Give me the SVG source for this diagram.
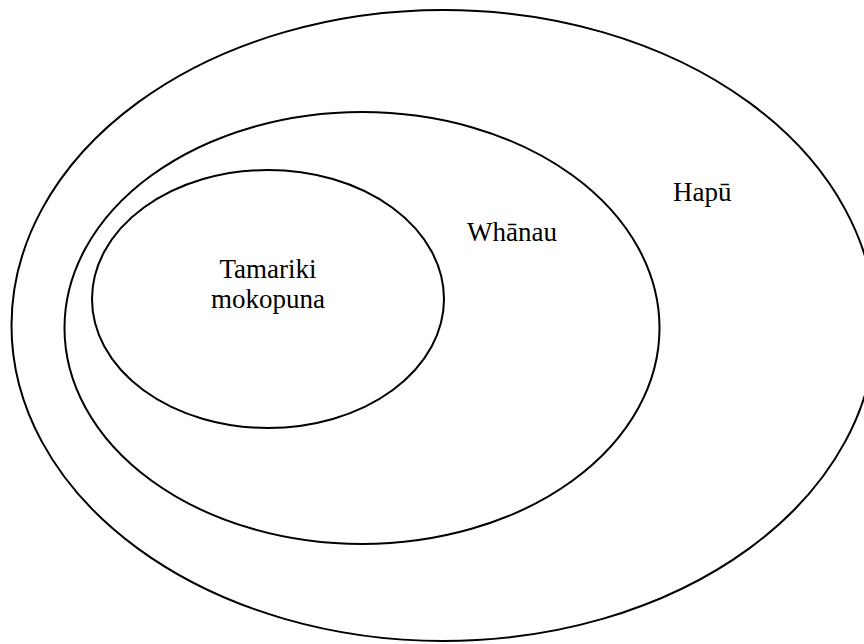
<svg xmlns="http://www.w3.org/2000/svg" width="864" height="644" viewBox="0 0 864 644">
<style>
.e{fill:none;stroke:#000;stroke-width:2}
.t{font-family:"Liberation Serif","Times New Roman",serif;font-size:27px;fill:#000}
</style>
<rect width="864" height="644" fill="#fff"/>
<g id="hapu"><ellipse class="e" cx="443.5" cy="325.5" rx="432" ry="315.5"/><text class="t" x="673" y="201">Hapū</text></g>
<g id="whanau"><ellipse class="e" cx="362" cy="328" rx="297.5" ry="216"/><text class="t" x="467" y="241">Whānau</text></g>
<g id="tamariki"><ellipse class="e" cx="268" cy="299" rx="176" ry="129"/><text class="t" x="268" y="278" text-anchor="middle">Tamariki</text><text class="t" x="268" y="308" text-anchor="middle">mokopuna</text></g>
<g id="connectors"/>
</svg>
